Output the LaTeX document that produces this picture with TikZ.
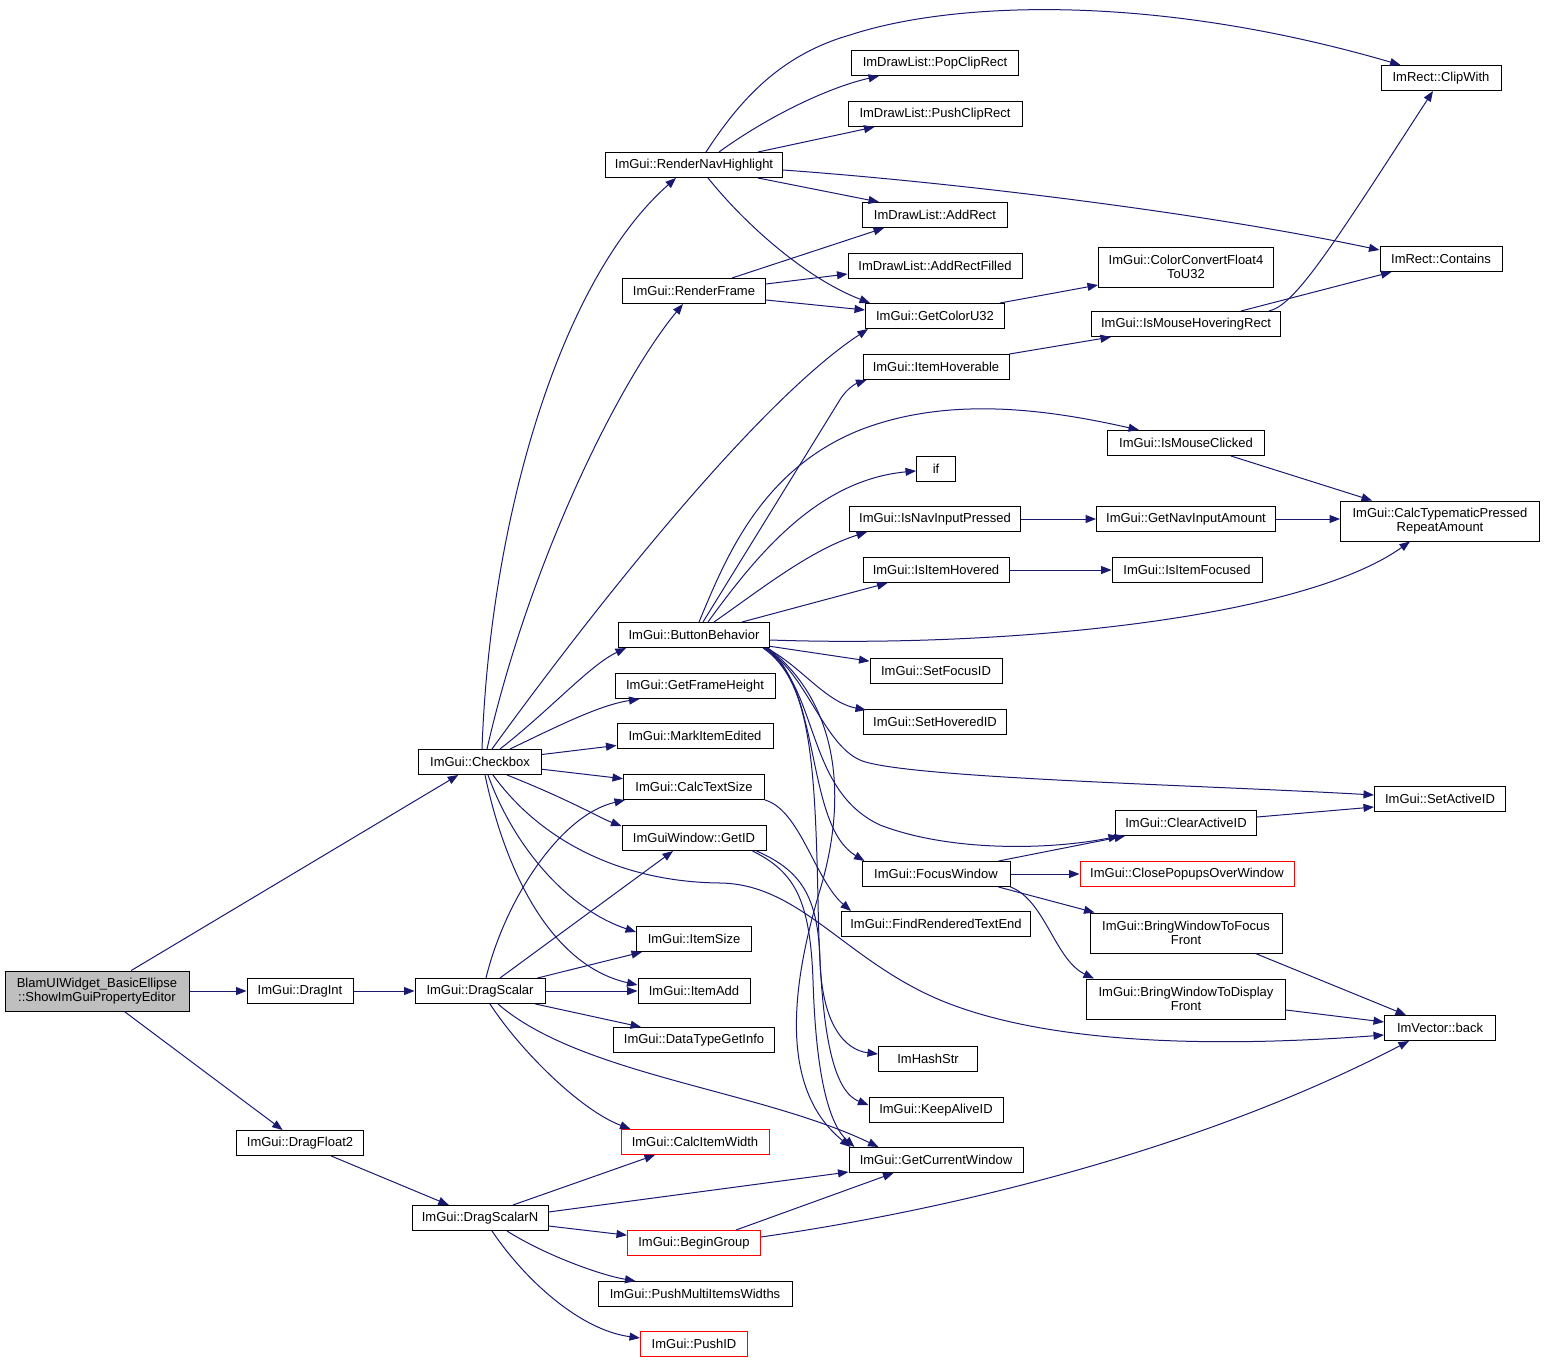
\documentclass[tikz,border=0pt]{standalone}
\usepackage{fontspec}
\setmainfont{Liberation Sans}
\usetikzlibrary{arrows.meta,calc}
\definecolor{edgec}{HTML}{191970}
\definecolor{mainfill}{HTML}{BFBFBF}
\begin{document}
\begin{tikzpicture}[x=1pt,y=-1pt,
  fn/.style={draw=black, line width=1pt, fill=white, inner sep=0pt, minimum height=25pt,
             font=\fontsize{13}{14}\selectfont, align=center},
  fnred/.style={fn, draw=red},
  fntwo/.style={fn, minimum height=40pt},
  call/.style={draw=edgec, line width=1pt, -{Triangle[length=10.5pt,width=8pt]}},
]
\useasboundingbox (0,0) rectangle (1545,1365);

% ---------- nodes ----------
\node[fntwo, fill=mainfill, minimum width=184pt] (main) at (97,991) {BlamUIWidget\_BasicEllipse\\::ShowImGuiPropertyEditor};
\node[fn, minimum width=106pt] (dragint) at (300,991) {ImGui::DragInt};
\node[fn, minimum width=127pt] (dragfloat) at (300,1143) {ImGui::DragFloat2};
\node[fn, minimum width=130pt] (dragscalar) at (480,991) {ImGui::DragScalar};
\node[fn, minimum width=136pt] (dragscalarn) at (480,1218) {ImGui::DragScalarN};
\node[fn, minimum width=123pt] (checkbox) at (480,762) {ImGui::Checkbox};

\node[fn, minimum width=177pt] (rnh) at (694,165) {ImGui::RenderNavHighlight};
\node[fn, minimum width=143pt] (renderframe) at (694,291) {ImGui::RenderFrame};
\node[fn, minimum width=151pt] (bb) at (694,635) {ImGui::ButtonBehavior};
\node[fn, minimum width=160pt] (frameheight) at (695,686) {ImGui::GetFrameHeight};
\node[fn, minimum width=156pt] (markedited) at (695,736) {ImGui::MarkItemEdited};
\node[fn, minimum width=141pt] (calctextsize) at (694,787) {ImGui::CalcTextSize};
\node[fn, minimum width=144pt] (getid) at (694,838) {ImGuiWindow::GetID};
\node[fn, minimum width=115pt] (itemsize) at (694,939) {ImGui::ItemSize};
\node[fn, minimum width=112pt] (itemadd) at (694,991) {ImGui::ItemAdd};
\node[fn, minimum width=161pt] (datatype) at (694,1040) {ImGui::DataTypeGetInfo};
\node[fnred, minimum width=148pt] (calcitemwidth) at (695,1142) {ImGui::CalcItemWidth};
\node[fnred, minimum width=133pt] (begingroup) at (694,1243) {ImGui::BeginGroup};
\node[fn, minimum width=194pt] (pushmulti) at (695,1294) {ImGui::PushMultiItemsWidths};
\node[fnred, minimum width=107pt] (pushid) at (694,1344) {ImGui::PushID};

\node[fn, minimum width=167pt] (popclip) at (935,63) {ImDrawList::PopClipRect};
\node[fn, minimum width=174pt] (pushclip) at (935,114) {ImDrawList::PushClipRect};
\node[fn, minimum width=145pt] (addrect) at (935,215) {ImDrawList::AddRect};
\node[fn, minimum width=174pt] (addrectfilled) at (935,266) {ImDrawList::AddRectFilled};
\node[fn, minimum width=139pt] (getcolor) at (935,316) {ImGui::GetColorU32};
\node[fn, minimum width=146pt] (itemhoverable) at (936,367) {ImGui::ItemHoverable};
\node[fn, minimum width=39pt] (ifnode) at (936,469) {if};
\node[fn, minimum width=171pt] (isnavpressed) at (935,519) {ImGui::IsNavInputPressed};
\node[fn, minimum width=146pt] (isitemhovered) at (936,570) {ImGui::IsItemHovered};
\node[fn, minimum width=132pt] (setfocusid) at (936,671) {ImGui::SetFocusID};
\node[fn, minimum width=143pt] (sethoveredid) at (935,722) {ImGui::SetHoveredID};
\node[fn, minimum width=148pt] (focuswindow) at (936,874) {ImGui::FocusWindow};
\node[fn, minimum width=189pt] (findrendered) at (936,924) {ImGui::FindRenderedTextEnd};
\node[fn, minimum width=99pt] (imhashstr) at (928,1059) {ImHashStr};
\node[fn, minimum width=134pt] (keepalive) at (936,1110) {ImGui::KeepAliveID};
\node[fn, minimum width=174pt] (gcw) at (936,1160) {ImGui::GetCurrentWindow};

\node[fntwo, minimum width=175pt] (colorconvert) at (1186,267) {ImGui::ColorConvertFloat4\\ToU32};
\node[fn, minimum width=189pt] (ismousehover) at (1186,324) {ImGui::IsMouseHoveringRect};
\node[fn, minimum width=157pt] (ismouseclicked) at (1186,443) {ImGui::IsMouseClicked};
\node[fn, minimum width=179pt] (getnavinput) at (1186,519) {ImGui::GetNavInputAmount};
\node[fn, minimum width=150pt] (isitemfocused) at (1187,570) {ImGui::IsItemFocused};
\node[fn, minimum width=141pt] (clearactive) at (1186,823) {ImGui::ClearActiveID};
\node[fnred, minimum width=214pt] (closepopups) at (1187,874) {ImGui::ClosePopupsOverWindow};
\node[fntwo, minimum width=192pt] (bwfocus) at (1186,933) {ImGui::BringWindowToFocus\\Front};
\node[fntwo, minimum width=199pt] (bwdisplay) at (1186,999) {ImGui::BringWindowToDisplay\\Front};

\node[fn, minimum width=120pt] (clipwith) at (1441,78) {ImRect::ClipWith};
\node[fn, minimum width=122pt] (contains) at (1441,259) {ImRect::Contains};
\node[fntwo, minimum width=199pt] (calctypematic) at (1440,521) {ImGui::CalcTypematicPressed\\RepeatAmount};
\node[fn, minimum width=131pt] (setactive) at (1440,799) {ImGui::SetActiveID};
\node[fn, minimum width=111pt] (imvecback) at (1440,1028) {ImVector::back};

% ---------- edges ----------
% main
\draw[call] (main) -- (checkbox);
\draw[call] (main) -- (dragint);
\draw[call] (main) -- (dragfloat);
\draw[call] (dragint) -- (dragscalar);
\draw[call] (dragfloat) -- (dragscalarn);

% Checkbox
\draw[call] ($(checkbox.north)+(2,0)$) .. controls (490,520) and (560,280) .. ($(rnh.south)+(-18,0)$);
\draw[call] ($(checkbox.north)+(7,0)$) .. controls (530,560) and (620,380) .. ($(renderframe.south)+(-11,0)$);
\draw[call] ($(checkbox.north)+(12,0)$) .. controls (600,600) and (760,400) .. ($(getcolor.south west)+(3,0)$);
\draw[call] ($(checkbox.north)+(20,0)$) .. controls (550,710) and (590,665) .. ($(bb.south west)+(8,0)$);
\draw[call] ($(checkbox.north)+(30,0)$) .. controls (560,725) and (600,705) .. ($(frameheight.south west)+(25,0)$);
\draw[call] (checkbox) -- (markedited);
\draw[call] (checkbox) -- (calctextsize);
\draw[call] ($(checkbox.south)+(27,0)$) .. controls (570,800) and (600,818) .. ($(getid.west)+(0,-12)$);
\draw[call] ($(checkbox.south)+(8,0)$) .. controls (515,850) and (570,910) .. ($(itemsize.west)+(0,-7)$);
\draw[call] ($(checkbox.south)+(5,0)$) .. controls (505,870) and (550,965) .. ($(itemadd.west)+(0,-6)$);
\draw[call] ($(checkbox.south)+(13,0)$) .. controls (540,840) and (620,882) .. (720,883)
   .. controls (800,884) and (845,960) .. (940,1000)
   .. controls (1060,1050) and (1250,1045) .. ($(imvecback.west)+(0,7)$);

% RenderNavHighlight
\draw[call] ($(rnh.north)+(12,0)$) .. controls (740,100) and (780,55) .. (850,35)
   .. controls (950,2) and (1150,-8) .. ($(clipwith.north west)+(20,0)$);
\draw[call] ($(rnh.north)+(25,0)$) .. controls (770,115) and (830,87) .. ($(popclip.south west)+(28,0)$);
\draw[call] ($(rnh.north)+(64,0)$) -- ($(pushclip.south west)+(27,0)$);
\draw[call] ($(rnh.east)+(0,5)$) .. controls (950,182) and (1200,212) .. ($(contains.west)+(0,-9)$);
\draw[call] ($(rnh.south)+(64,0)$) -- ($(addrect.north west)+(17,0)$);
\draw[call] ($(rnh.south)+(14,0)$) .. controls (750,230) and (810,280) .. ($(getcolor.north west)+(5,0)$);

% RenderFrame
\draw[call] ($(renderframe.north)+(38,0)$) -- ($(addrect.south west)+(22,0)$);
\draw[call] ($(renderframe.east)+(0,-7)$) -- ($(addrectfilled.west)+(0,8)$);
\draw[call] ($(renderframe.east)+(0,9)$) -- ($(getcolor.west)+(0,-6)$);

% misc right side
\draw[call] ($(getcolor.north east)+(-5,0)$) -- ($(colorconvert.west)+(0,18)$);
\draw[call] (itemhoverable.north east) -- ($(ismousehover.south west)+(20,0)$);
\draw[call] ($(ismousehover.north east)+(-12,0)$) .. controls (1295,305) and (1330,250) .. ($(clipwith.south)+(-8,0)$);
\draw[call] ($(ismousehover.north east)+(-40,0)$) -- ($(contains.south west)+(12,0)$);
\draw[call] ($(ismouseclicked.south)+(45,0)$) -- ($(calctypematic.north west)+(32,0)$);
\draw[call] (isnavpressed) -- (getnavinput);
\draw[call] (getnavinput.east) -- (getnavinput.east -| calctypematic.west);
\draw[call] (isitemhovered) -- (isitemfocused);
\draw[call] ($(clearactive.east)+(0,-6)$) -- ($(setactive.west)+(0,8)$);
\draw[call] ($(focuswindow.north east)+(-12,0)$) -- ($(clearactive.south west)+(10,0)$);
\draw[call] (focuswindow) -- (closepopups);
\draw[call] ($(focuswindow.south east)+(-12,0)$) -- ($(bwfocus.north west)+(5,0)$);
\draw[call] (focuswindow.south east) .. controls (1045,900) and (1055,960) .. ($(bwdisplay.north west)+(8,0)$);
\draw[call] ($(bwfocus.south east)+(-27,0)$) -- ($(imvecback.north west)+(22,0)$);
\draw[call] ($(bwdisplay.east)+(0,11)$) -- ($(imvecback.west)+(0,-6)$);

% ButtonBehavior
\draw[call] ($(bb.north)+(5,0)$) .. controls (725,560) and (760,470) .. (860,430)
   .. controls (950,395) and (1050,410) .. ($(ismouseclicked.north west)+(32,0)$);
\draw[call] ($(bb.north)+(9,0)$) -- (841,398) .. controls (848,388) and (855,384) .. ($(itemhoverable.south west)+(4,0)$);
\draw[call] ($(bb.north)+(14,0)$) .. controls (760,550) and (820,480) .. (ifnode);
\draw[call] ($(bb.north)+(20,0)$) .. controls (760,590) and (810,550) .. ($(isnavpressed.south west)+(18,0)$);
\draw[call] ($(bb.north)+(48,0)$) -- ($(isitemhovered.south west)+(25,0)$);
\draw[call] ($(bb.east)+(0,5)$) .. controls (1000,648) and (1300,620) .. ($(calctypematic.south)+(-30,0)$);
\draw[call] (bb) -- (setfocusid);
\draw[call] ($(bb.south east)+(-4,0)$) .. controls (800,665) and (825,702) .. ($(sethoveredid.north west)+(3,1)$);
\draw[call] ($(bb.south east)+(-6,0)$) .. controls (805,670) and (823,744) .. (860,760)
   .. controls (900,778) and (1200,785) .. ($(setactive.west)+(0,-4)$);
\draw[call] ($(bb.south east)+(-5,0)$) .. controls (820,690) and (805,790) .. (880,825)
   .. controls (950,852) and (1050,850) .. ($(clearactive.south west)+(4,0)$);
\draw[call] ($(bb.south east)+(-3,0)$) .. controls (822,690) and (805,825) .. ($(focuswindow.north west)+(3,0)$);
\draw[call] ($(bb.south east)+(-2,0)$) .. controls (835,700) and (850,790) .. (820,890)
   .. controls (790,990) and (780,1090) .. ($(gcw.north west)+(2,0)$);
\draw[call] ($(bb.south east)+(-7,0)$) .. controls (810,680) and (815,760) .. (818,900)
   .. controls (820,1020) and (830,1090) .. ($(keepalive.west)+(0,-5)$);

% CalcTextSize / GetID
\draw[call] (calctextsize.south east) .. controls (800,810) and (815,880) .. ($(findrendered.north west)+(10,0)$);
\draw[call] ($(getid.south east)+(-10,0)$) .. controls (800,870) and (818,895) .. (820,960)
   .. controls (822,1025) and (845,1050) .. ($(imhashstr.west)+(0,-5)$);
\draw[call] ($(getid.south east)+(-14,0)$) .. controls (795,872) and (810,900) .. (813,980)
   .. controls (816,1080) and (830,1125) .. ($(gcw.north west)+(6,0)$);

% DragScalar
\draw[call] ($(dragscalar.north)+(6,0)$) .. controls (505,900) and (560,815) .. ($(calctextsize.south west)+(2,0)$);
\draw[call] ($(dragscalar.north)+(20,0)$) -- ($(getid.south)+(-21,0)$);
\draw[call] ($(dragscalar.north east)+(-8,0)$) -- ($(itemsize.south west)+(6,0)$);
\draw[call] (dragscalar) -- (itemadd);
\draw[call] ($(dragscalar.south east)+(-10,0)$) -- ($(datatype.north west)+(28,0)$);
\draw[call] ($(dragscalar.south)+(10,0)$) .. controls (520,1050) and (580,1110) .. ($(calcitemwidth.north west)+(10,0)$);
\draw[call] ($(dragscalar.south)+(18,0)$) .. controls (580,1075) and (760,1090) .. ($(gcw.north west)+(30,0)$);

% DragScalarN
\draw[call] ($(dragscalarn.north)+(33,0)$) -- ($(calcitemwidth.south)+(-40,0)$);
\draw[call] ($(dragscalarn.east)+(0,-6)$) -- ($(gcw.south west)+(0,-1)$);
\draw[call] (dragscalarn) -- (begingroup);
\draw[call] ($(dragscalarn.south)+(27,0)$) .. controls (545,1255) and (600,1275) .. ($(pushmulti.north west)+(38,0)$);
\draw[call] ($(dragscalarn.south)+(12,0)$) .. controls (525,1280) and (580,1330) .. ($(pushid.west)+(0,-6)$);

% BeginGroup
\draw[call] ($(begingroup.north)+(42,0)$) -- ($(gcw.south west)+(45,0)$);
\draw[call] ($(begingroup.east)+(0,-6)$) .. controls (950,1210) and (1200,1150) .. ($(imvecback.south west)+(25,0)$);
\end{tikzpicture}
\end{document}
